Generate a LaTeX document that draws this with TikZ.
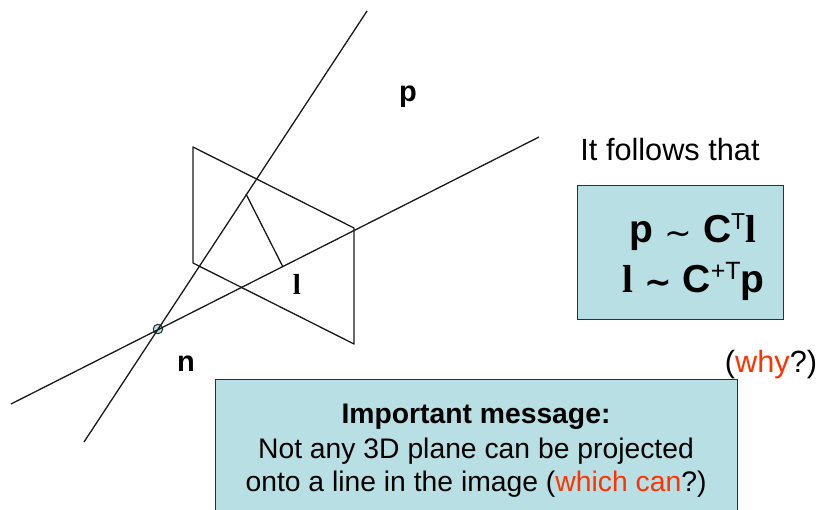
\documentclass[tikz,border=0pt]{standalone}
\usepackage{fontspec}
\setmainfont{Liberation Sans}
\newfontfamily\tms{Liberation Serif}
\newfontfamily\djv{DejaVu Sans}
\definecolor{boxfill}{RGB}{184,223,227}
\definecolor{redtxt}{RGB}{255,51,0}
\definecolor{boxline}{RGB}{40,50,50}
\newcommand{\bl}{{\tms\bfseries l}}
\newcommand{\simb}[1]{{\djv\fontsize{#1}{30}\selectfont\raisebox{-1.5pt}{\char"223C}}}
\begin{document}
\begin{tikzpicture}[x=1pt,y=-1pt,
  wire/.style={line width=1.3pt,draw=black!90},
  panel/.style={draw=boxline,line width=1pt,fill=boxfill},
  lab/.style={inner sep=0pt,anchor=base,font=\fontsize{28.3}{33}\selectfont},
  eqn/.style={inner sep=0pt,anchor=base,font=\fontsize{39}{44}\selectfont\bfseries}]
\useasboundingbox (0,0) rectangle (818,509);
\coordinate (pa) at (193,147);
\coordinate (pb) at (354,228);
\coordinate (pc) at (354,344);
\coordinate (pd) at (193,263);
\coordinate (r1a) at (84,442);
\coordinate (r1b) at (367,11);
\coordinate (r2a) at (11,404);
\coordinate (r2b) at (539,137);
\coordinate (la) at (246,194);
\coordinate (lb) at (283,267);
\draw[wire,line join=round] (pa)--(pb)--(pc)--(pd)--cycle;
\node[circle,draw=boxline,line width=1pt,fill=boxfill,minimum size=9.5pt,inner sep=0pt] (n0) at (158,329) {};
\draw[wire] (r1a)--(r1b);
\draw[wire] (r2a)--(r2b);
\draw[wire] (la)--(lb);
\node[lab,font=\fontsize{29}{33}\selectfont\bfseries] (tp) at (408,101) {p};
\node[lab,font=\fontsize{29}{33}\selectfont\bfseries] (tn) at (186,371) {n};
\node[lab,font=\fontsize{29}{33}\selectfont] (tl) at (297,294) {\bl};
\node[lab,font=\fontsize{30.7}{36}\selectfont] (tf) at (670,160) {It follows that};
\draw[panel] (577,185) rectangle (783,319);
\node[eqn] (e1) at (693,242.5) {p {\mdseries\simb{33}} C\raisebox{13pt}{\mdseries\fontsize{23}{24}\selectfont T}\bl};
\node[eqn] (e2) at (693.5,292) {\bl{} \simb{33} C\raisebox{13pt}{\mdseries\fontsize{25}{24}\selectfont +T}p};
\node[lab,font=\fontsize{30.7}{36}\selectfont] (why) at (771,372) {(\textcolor{redtxt}{why}?)};
\draw[panel] (215,379) rectangle (737,520);
\node[lab,font=\fontsize{28.3}{33}\selectfont\bfseries] (m1) at (476,423) {Important message:};
\node[lab] (m2) at (476,458) {Not any 3D plane can be projected};
\node[lab] (m3) at (476,491) {onto a line in the image (\textcolor{redtxt}{which can}?)};
\end{tikzpicture}
\end{document}
